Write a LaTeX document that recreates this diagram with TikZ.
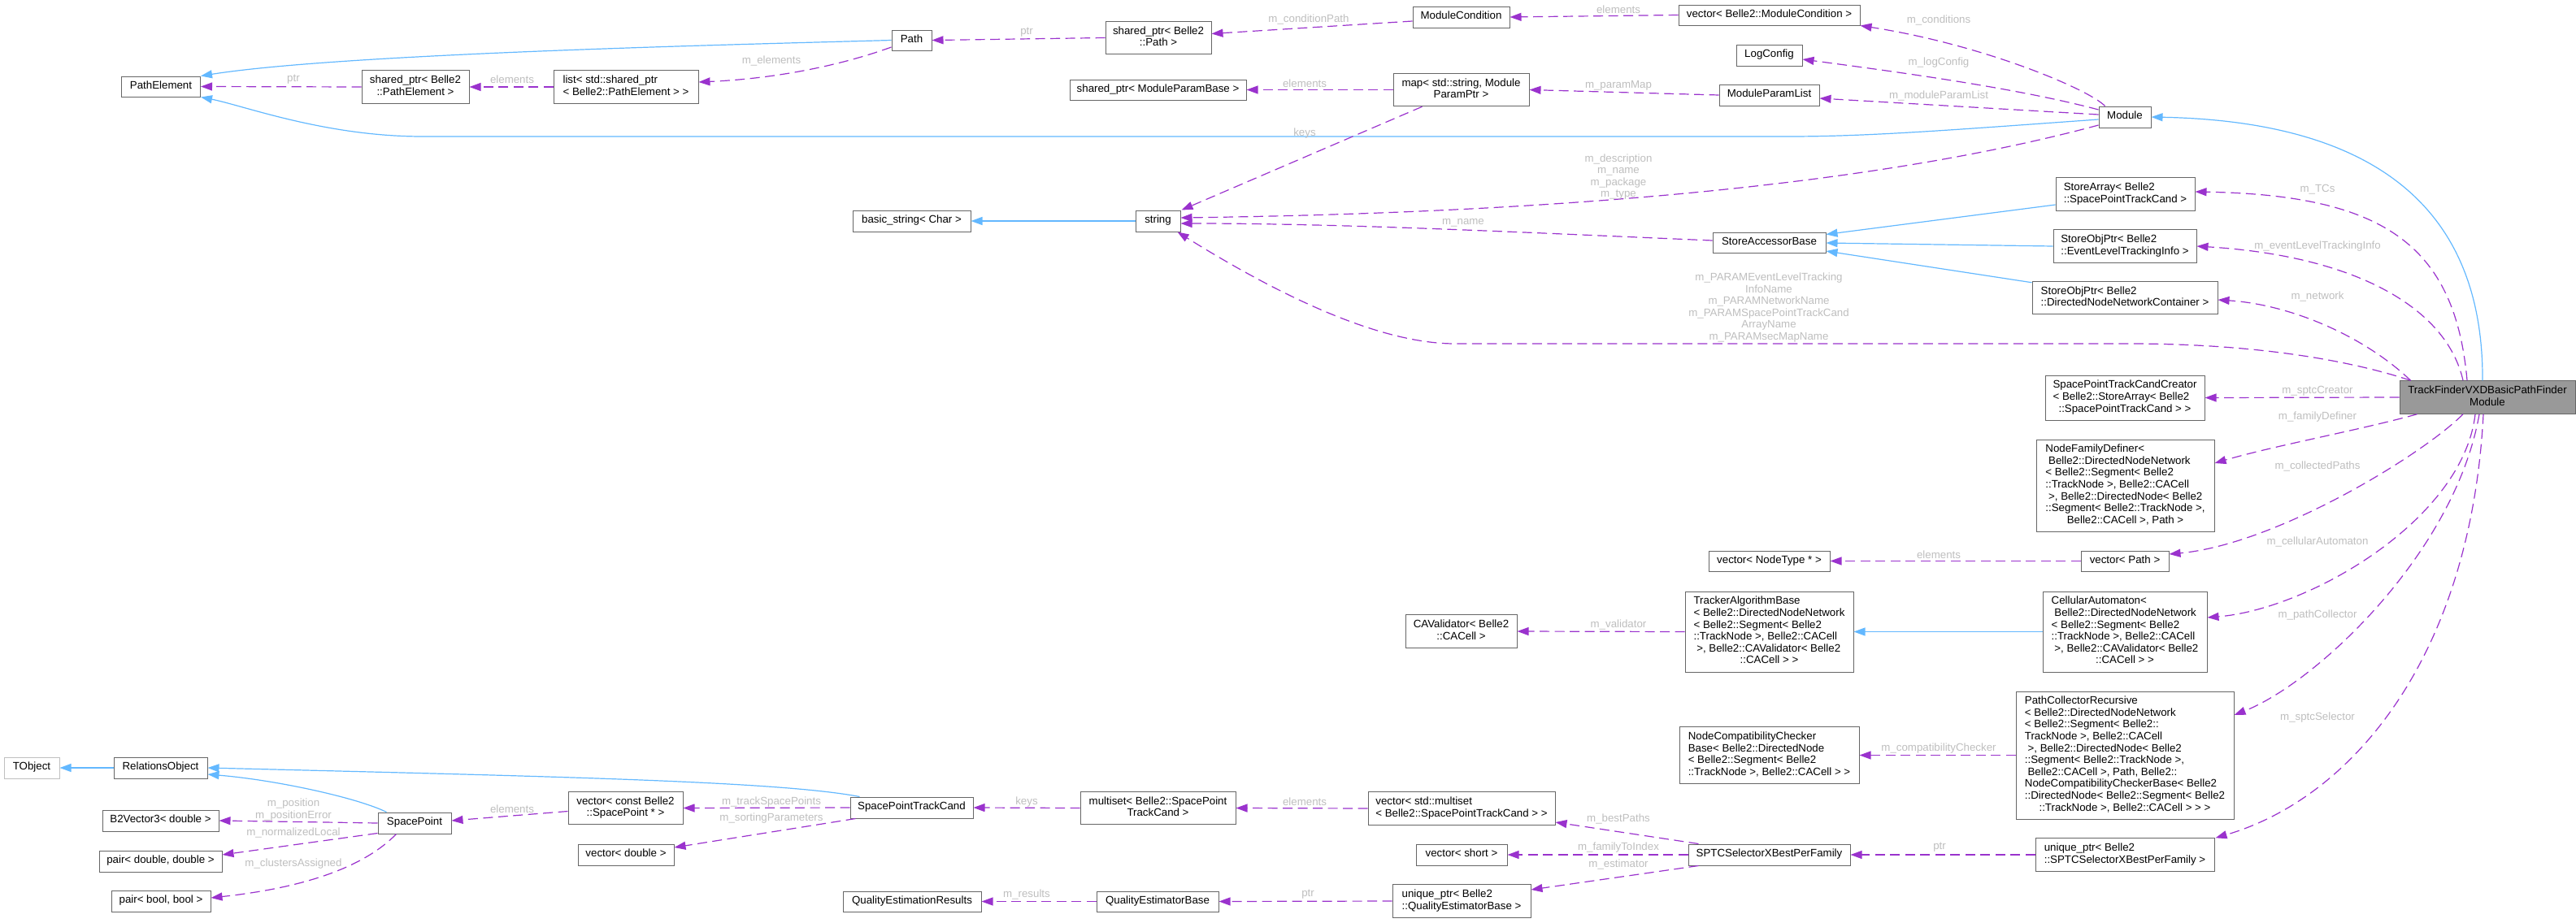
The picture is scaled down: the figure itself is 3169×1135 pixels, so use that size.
\documentclass[tikz,border=0pt]{standalone}
\usepackage{fontspec}
\setmainfont{Liberation Sans}
\usetikzlibrary{arrows.meta,calc}
\definecolor{dxblue}{HTML}{63B8FF}
\definecolor{dxpurple}{HTML}{9A32CD}
\definecolor{dxlabel}{HTML}{BEBEBE}
\definecolor{dxborder}{HTML}{666666}
\definecolor{dxrootfill}{HTML}{999999}
\definecolor{dxext}{HTML}{BFBFBF}
\newcommand\dxl[1]{\begin{tabular}{@{}l@{}}#1\end{tabular}}
\newcommand\dxc[1]{\multicolumn{1}{@{}c@{}}{#1}}
\tikzset{
  every node/.style={font=\fontsize{13.3}{14.6}\selectfont},
  clsbox/.style={draw=dxborder, fill=white, line width=1pt, inner sep=0pt, minimum height=26pt},
  rootbox/.style={clsbox, fill=dxrootfill},
  extbox/.style={clsbox, draw=dxext},
  edgelbl/.style={text=dxlabel, inner sep=0pt, align=center},
  inhedge/.style={draw=dxblue, line width=1.2pt, -{Triangle[length=14pt,width=10pt]}},
  useedge/.style={draw=dxpurple, line width=1.2pt, dash pattern=on 12pt off 6.5pt, -{Triangle[length=14pt,width=10pt]}},
}
\begin{document}
\begin{tikzpicture}[x=1pt,y=-1pt]
\useasboundingbox (0,0) rectangle (3169,1135);
% ---------------- nodes ----------------
\node[clsbox, minimum width=97pt, minimum height=25pt] (PathElement) at (198,106.5) {\dxl{PathElement}};
\node[clsbox, minimum width=132pt, minimum height=40.5pt] (spPE) at (511,107) {\dxl{shared\_ptr< Belle2\\\dxc{::PathElement >}}};
\node[clsbox, minimum width=178pt, minimum height=40.5pt] (listPE) at (770,107) {\dxl{list< std::shared\_ptr\\\dxc{< Belle2::PathElement > >}}};
\node[clsbox, minimum width=49pt, minimum height=25pt] (Path) at (1121.5,49.5) {\dxl{Path}};
\node[clsbox, minimum width=130pt, minimum height=40.5pt] (spPath) at (1425,46.5) {\dxl{shared\_ptr< Belle2\\\dxc{::Path >}}};
\node[clsbox, minimum width=119pt] (ModuleCondition) at (1797.5,21) {\dxl{ModuleCondition}};
\node[clsbox, minimum width=223pt, minimum height=25pt] (vecMC) at (2176.5,18.5) {\dxl{vector< Belle2::ModuleCondition >}};
\node[clsbox, minimum width=81pt] (LogConfig) at (2176.5,68) {\dxl{LogConfig}};
\node[clsbox, minimum width=217pt, minimum height=25pt] (spMPB) at (1424.5,110.5) {\dxl{shared\_ptr< ModuleParamBase >}};
\node[clsbox, minimum width=167pt, minimum height=40.5pt] (map) at (1797.5,110.5) {\dxl{map< std::string, Module\\\dxc{ParamPtr >}}};
\node[clsbox, minimum width=123pt] (MPL) at (2176.5,117) {\dxl{ModuleParamList}};
\node[clsbox, minimum width=64pt] (Module) at (2614,144) {\dxl{Module}};
\node[clsbox, minimum width=145pt] (basicstring) at (1121.5,272) {\dxl{basic\_string< Char >}};
\node[clsbox, minimum width=55pt] (string) at (1424.5,272) {\dxl{string}};
\node[clsbox, minimum width=139pt, minimum height=25pt] (SAB) at (2176.5,298.5) {\dxl{StoreAccessorBase}};
\node[clsbox, minimum width=171pt, minimum height=40.5pt] (StoreArray) at (2614.5,239) {\dxl{StoreArray< Belle2\\\dxc{::SpacePointTrackCand >}}};
\node[clsbox, minimum width=176pt, minimum height=40.5pt] (SOPevent) at (2614,303) {\dxl{StoreObjPtr< Belle2\\\dxc{::EventLevelTrackingInfo >}}};
\node[clsbox, minimum width=228pt, minimum height=40.5pt] (SOPnet) at (2614,366.5) {\dxl{StoreObjPtr< Belle2\\\dxc{::DirectedNodeNetworkContainer >}}};
\node[rootbox, minimum width=216pt, minimum height=40.5pt] (TrackFinder) at (3060,489) {\dxl{TrackFinderVXDBasicPathFinder\\\dxc{Module}}};
\node[clsbox, minimum width=196pt, minimum height=55pt] (SPTCCreator) at (2614,489.5) {\dxl{SpacePointTrackCandCreator\\< Belle2::StoreArray< Belle2\\\dxc{::SpacePointTrackCand > >}}};
\node[clsbox, minimum width=219pt, minimum height=113pt] (NFD) at (2614.5,597.5) {\dxl{NodeFamilyDefiner<\\\ Belle2::DirectedNodeNetwork\\< Belle2::Segment< Belle2\\::TrackNode >, Belle2::CACell\\\ >, Belle2::DirectedNode< Belle2\\::Segment< Belle2::TrackNode >,\\\dxc{Belle2::CACell >, Path >}}};
\node[clsbox, minimum width=149pt, minimum height=25pt] (vecNodeType) at (2176.5,690.5) {\dxl{vector< NodeType * >}};
\node[clsbox, minimum width=108pt, minimum height=25pt] (vecPath) at (2614,690.5) {\dxl{vector< Path >}};
\node[clsbox, minimum width=137pt, minimum height=40.5pt] (CAValidator) at (1797.5,777) {\dxl{CAValidator< Belle2\\\dxc{::CACell >}}};
\node[clsbox, minimum width=207pt, minimum height=99pt] (TAB) at (2176.5,777.5) {\dxl{TrackerAlgorithmBase\\< Belle2::DirectedNodeNetwork\\< Belle2::Segment< Belle2\\::TrackNode >, Belle2::CACell\\\ >, Belle2::CAValidator< Belle2\\\dxc{::CACell > >}}};
\node[clsbox, minimum width=202pt, minimum height=99pt] (CA) at (2614,777.5) {\dxl{CellularAutomaton<\\\ Belle2::DirectedNodeNetwork\\< Belle2::Segment< Belle2\\::TrackNode >, Belle2::CACell\\\ >, Belle2::CAValidator< Belle2\\\dxc{::CACell > >}}};
\node[clsbox, minimum width=221pt, minimum height=69.5pt] (NCCB) at (2176.5,929.5) {\dxl{NodeCompatibilityChecker\\Base< Belle2::DirectedNode\\< Belle2::Segment< Belle2\\\dxc{::TrackNode >, Belle2::CACell > >}}};
\node[clsbox, minimum width=268pt, minimum height=157pt] (PCR) at (2614,929.5) {\dxl{PathCollectorRecursive\\< Belle2::DirectedNodeNetwork\\< Belle2::Segment< Belle2::\\TrackNode >, Belle2::CACell\\\ >, Belle2::DirectedNode< Belle2\\::Segment< Belle2::TrackNode >,\\\ Belle2::CACell >, Path, Belle2::\\NodeCompatibilityCheckerBase< Belle2\\::DirectedNode< Belle2::Segment< Belle2\\\dxc{::TrackNode >, Belle2::CACell > > >}}};
\node[extbox, minimum width=68pt] (TObject) at (39,945) {\dxl{TObject}};
\node[clsbox, minimum width=115pt] (RelationsObject) at (197.5,945) {\dxl{RelationsObject}};
\node[clsbox, minimum width=143pt] (B2Vector3) at (197.5,1010) {\dxl{B2Vector3< double >}};
\node[clsbox, minimum width=151pt] (pairDD) at (197.5,1060) {\dxl{pair< double, double >}};
\node[clsbox, minimum width=122pt] (pairBB) at (198,1109) {\dxl{pair< bool, bool >}};
\node[clsbox, minimum width=90pt] (SpacePoint) at (510,1013) {\dxl{SpacePoint}};
\node[clsbox, minimum width=141pt, minimum height=40.5pt] (vecCSP) at (769.5,994.5) {\dxl{vector< const Belle2\\\dxc{::SpacePoint * >}}};
\node[clsbox, minimum width=118pt] (vecDouble) at (770,1052) {\dxl{vector< double >}};
\node[clsbox, minimum width=151pt] (SPTC) at (1121.5,994) {\dxl{SpacePointTrackCand}};
\node[clsbox, minimum width=191pt, minimum height=40.5pt] (multiset) at (1424.5,994.5) {\dxl{multiset< Belle2::SpacePoint\\\dxc{TrackCand >}}};
\node[clsbox, minimum width=230pt, minimum height=40.5pt] (vecMS) at (1798,995) {\dxl{vector< std::multiset\\\dxc{< Belle2::SpacePointTrackCand > >}}};
\node[clsbox, minimum width=112pt] (vecShort) at (1798,1052) {\dxl{vector< short >}};
\node[clsbox, minimum width=170pt, minimum height=40.5pt] (upQEB) at (1798,1109) {\dxl{unique\_ptr< Belle2\\\dxc{::QualityEstimatorBase >}}};
\node[clsbox, minimum width=199pt] (SPTCSel) at (2176.5,1052) {\dxl{SPTCSelectorXBestPerFamily}};
\node[clsbox, minimum width=220pt, minimum height=40.5pt] (upSPTC) at (2614,1052) {\dxl{unique\_ptr< Belle2\\\dxc{::SPTCSelectorXBestPerFamily >}}};
\node[clsbox, minimum width=170pt, minimum height=25pt] (QER) at (1122,1109.5) {\dxl{QualityEstimationResults}};
\node[clsbox, minimum width=150pt, minimum height=25pt] (QEB) at (1424,1109.5) {\dxl{QualityEstimatorBase}};
% ---------------- inheritance ----------------
\draw[inhedge] (Path.west) .. controls (900,55) and (420,66) .. (PathElement.north east);
\draw[inhedge] ($(Module.west)+(0,3)$) .. controls (2400,160) and (2300,168) .. (2200,168) -- (520,168) .. controls (400,168) and (300,130) .. (PathElement.south east);
\draw[inhedge] (string.west) -- (basicstring.east);
\draw[inhedge] ($(StoreArray.west)+(0,13)$) -- ($(SAB.east)+(0,-10)$);
\draw[inhedge] (SOPevent.west) -- ($(SAB.east)+(0,0.5)$);
\draw[inhedge] ($(SOPnet.north west)+(0,2)$) -- ($(SAB.east)+(0,10.5)$);
\draw[inhedge] ($(TrackFinder.north)+(-6,0)$) .. controls (3055,280) and (2950,150) .. (Module.east);
\draw[inhedge] (CA.west) -- (TAB.east);
\draw[inhedge] (RelationsObject.west) -- (TObject.east);
\draw[inhedge] ($(SPTC.north west)+(12,0)$) .. controls (960,962) and (700,956) .. (RelationsObject.east);
\draw[inhedge] ($(SpacePoint.north west)+(11,0)$) .. controls (440,982) and (340,960) .. ($(RelationsObject.east)+(0,8)$);
% ---------------- usage ----------------
\draw[useedge] (spPE.west) -- (PathElement.east);
\draw[useedge] (listPE.west) -- (spPE.east);
\draw[useedge] ($(Path.west)+(0,8.5)$) .. controls (1030,82) and (950,97) .. ($(listPE.east)+(0,-6)$);
\draw[useedge] (spPath.west) -- (Path.east);
\draw[useedge] ($(ModuleCondition.west)+(0,5)$) -- ($(spPath.east)+(0,-5)$);
\draw[useedge] (vecMC.west) -- (ModuleCondition.east);
\draw[useedge] ($(Module.north west)+(8,0)$) .. controls (2570,110) and (2440,55) .. (vecMC.south east);
\draw[useedge] ($(Module.west)+(0,-9)$) .. controls (2480,108) and (2330,88) .. ($(LogConfig.east)+(0,5)$);
\draw[useedge] ($(Module.west)+(0,-3)$) -- ($(MPL.east)+(0,4)$);
\draw[useedge] ($(Module.west)+(0,10)$) .. controls (2300,230) and (1900,262) .. ($(string.east)+(0,-4)$);
\draw[useedge] ($(SAB.west)+(0,-2.5)$) .. controls (1850,285) and (1650,275) .. ($(string.east)+(0,3)$);
\draw[useedge] ($(map.south west)+(36,0)$) -- ($(string.north east)+(1,0)$);
\draw[useedge] (MPL.west) -- (map.east);
\draw[useedge] (map.west) -- (spMPB.east);
\draw[useedge] ($(TrackFinder.north west)+(14,0)$) .. controls (2880,440) and (2760,423) .. (2620,423) -- (1790,423) .. controls (1690,423) and (1560,355) .. ($(string.south east)+(-4,0)$);
\draw[useedge] ($(TrackFinder.north)+(-25,0)$) .. controls (3020,300) and (2930,240) .. ($(StoreArray.east)+(0,-3)$);
\draw[useedge] ($(TrackFinder.north)+(-30,0)$) .. controls (3010,380) and (2900,315) .. (SOPevent.east);
\draw[useedge] ($(TrackFinder.north west)+(14,0)$) .. controls (2910,415) and (2820,375) .. ($(SOPnet.east)+(0,2.5)$);
\draw[useedge] (TrackFinder.west) -- (SPTCCreator.east);
\draw[useedge] ($(TrackFinder.south west)+(22,0)$) .. controls (2900,530) and (2800,548) .. ($(NFD.east)+(0,-27.5)$);
\draw[useedge] ($(TrackFinder.south)+(-30,0)$) .. controls (2980,560) and (2800,670) .. ($(vecPath.north east)+(0,4.5)$);
\draw[useedge] ($(TrackFinder.south)+(-15,0)$) .. controls (3030,640) and (2840,750) .. ($(CA.east)+(0,-17.5)$);
\draw[useedge] ($(TrackFinder.south)+(-10,0)$) .. controls (3020,680) and (2850,840) .. ($(PCR.east)+(0,-49.5)$);
\draw[useedge] ($(TrackFinder.south)+(-5,0)$) .. controls (3040,800) and (2900,980) .. ($(upSPTC.north east)+(1,0)$);
\draw[useedge] (vecPath.west) -- (vecNodeType.east);
\draw[useedge] (TAB.west) -- (CAValidator.east);
\draw[useedge] (PCR.west) -- (NCCB.east);
\draw[useedge] (upSPTC.west) -- (SPTCSel.east);
\draw[useedge] ($(SPTCSel.north west)+(13,0)$) -- ($(vecMS.east)+(0,17)$);
\draw[useedge] (SPTCSel.west) -- (vecShort.east);
\draw[useedge] ($(SPTCSel.south west)+(13,0)$) -- ($(upQEB.east)+(0,-14)$);
\draw[useedge] (vecMS.west) -- (multiset.east);
\draw[useedge] (upQEB.west) -- (QEB.east);
\draw[useedge] (QEB.west) -- (QER.east);
\draw[useedge] (multiset.west) -- (SPTC.east);
\draw[useedge] (SPTC.west) -- (vecCSP.east);
\draw[useedge] ($(SPTC.south west)+(7,0)$) -- ($(vecDouble.east)+(0,-9)$);
\draw[useedge] ($(vecCSP.west)+(0,4)$) -- ($(SpacePoint.east)+(0,-3)$);
\draw[useedge] (SpacePoint.west) -- (B2Vector3.east);
\draw[useedge] ($(SpacePoint.south west)+(0,-1)$) -- ($(pairDD.east)+(0,-8)$);
\draw[useedge] ($(SpacePoint.south west)+(23,0)$) .. controls (450,1065) and (380,1092) .. ($(pairBB.east)+(0,-4)$);
% ---------------- labels ----------------
\node[edgelbl] (lA1) at (361,98) {ptr};
\node[edgelbl] (lA2) at (630,98) {elements};
\node[edgelbl] (lA3) at (949,75) {m\_elements};
\node[edgelbl] (lA4) at (1263,40) {ptr};
\node[edgelbl] (lA5) at (1610,24) {m\_conditionPath};
\node[edgelbl] (lA6) at (1991,12) {elements};
\node[edgelbl] (lA7) at (2385,25) {m\_conditions};
\node[edgelbl] (lA8) at (2385,77) {m\_logConfig};
\node[edgelbl] (lA9) at (1991,105) {m\_paramMap};
\node[edgelbl] (lA10) at (1605,103) {elements};
\node[edgelbl] (lA11) at (2385,118) {m\_moduleParamList};
\node[edgelbl] (lA12) at (1605,164) {keys};
\node[edgelbl] (lA13) at (1991,217.5) {m\_description\\m\_name\\m\_package\\m\_type};
\node[edgelbl] (lA14) at (1800,274) {m\_name};
\node[edgelbl] (lA15) at (2176,378.5) {m\_PARAMEventLevelTracking\\InfoName\\m\_PARAMNetworkName\\m\_PARAMSpacePointTrackCand\\ArrayName\\m\_PARAMsecMapName};
\node[edgelbl] (lB1) at (2851,233) {m\_TCs};
\node[edgelbl] (lB2) at (2851,303) {m\_eventLevelTrackingInfo};
\node[edgelbl] (lB3) at (2851,365) {m\_network};
\node[edgelbl] (lB4) at (2851,481) {m\_sptcCreator};
\node[edgelbl] (lB5) at (2851,513) {m\_familyDefiner};
\node[edgelbl] (lB6) at (2851,574) {m\_collectedPaths};
\node[edgelbl] (lB7) at (2385,683) {elements};
\node[edgelbl] (lB8) at (2851,667) {m\_cellularAutomaton};
\node[edgelbl] (lB9) at (1991,769) {m\_validator};
\node[edgelbl] (lB10) at (2851,757) {m\_pathCollector};
\node[edgelbl] (lB11) at (2851,883) {m\_sptcSelector};
\node[edgelbl] (lB12) at (2385,921) {m\_compatibilityChecker};
\node[edgelbl] (lC1) at (1991,1008) {m\_bestPaths};
\node[edgelbl] (lC2) at (2386,1043) {ptr};
\node[edgelbl] (lC3) at (1991,1043) {m\_familyToIndex};
\node[edgelbl] (lC4) at (1991,1064) {m\_estimator};
\node[edgelbl] (lC5) at (1605,987) {elements};
\node[edgelbl] (lC6) at (1609,1101) {ptr};
\node[edgelbl] (lC7) at (1263,987) {keys};
\node[edgelbl] (lC8) at (1263,1101) {m\_results};
\node[edgelbl] (lC9) at (949,987) {m\_trackSpacePoints};
\node[edgelbl] (lC10) at (949,1007) {m\_sortingParameters};
\node[edgelbl] (lC11) at (630,996) {elements};
\node[edgelbl] (lC12) at (361,996.5) {m\_position\\m\_positionError};
\node[edgelbl] (lC13) at (361,1025) {m\_normalizedLocal};
\node[edgelbl] (lC14) at (361,1063) {m\_clustersAssigned};
\end{tikzpicture}
\end{document}
